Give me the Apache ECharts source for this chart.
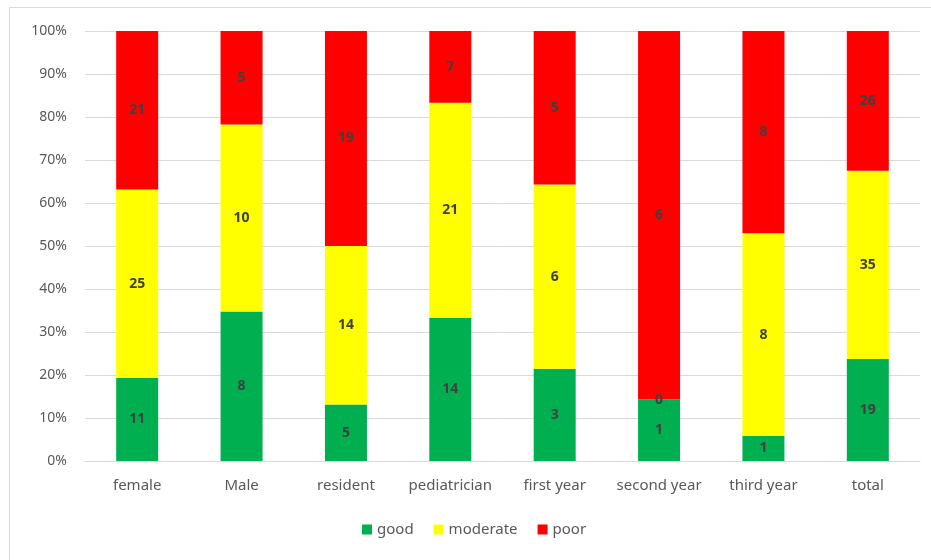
<!DOCTYPE html>
<html>
<head>
<meta charset="utf-8">
<script src="https://cdn.jsdelivr.net/npm/echarts@6/dist/echarts.min.js"></script>
<style>
  html, body { margin: 0; padding: 0; background: #fff; }
  #chart { width: 931px; height: 560px; }
</style>
</head>
<body>
<div id="chart"></div>
<script>
const categories = ['female', 'Male', 'resident', 'pediatrician', 'first year', 'second year', 'third year', 'total'];
const good = [11, 8, 5, 14, 3, 1, 1, 19];
const moderate = [25, 10, 14, 21, 6, 0, 8, 35];
const poor = [21, 5, 19, 7, 5, 6, 8, 26];

const totals = categories.map((_, i) => good[i] + moderate[i] + poor[i]);
// 100% stacked: bar height is share, label is the count
const toShare = (arr) => arr.map((v, i) => ({ value: v / totals[i] * 100, count: v }));

const font = 'Noto Sans';

const labelStyle = {
  show: true,
  position: 'inside',
  formatter: (p) => p.data.count,
  color: '#404040',
  fontFamily: font,
  fontSize: 14,
  fontWeight: 'bold',
};

const chart = echarts.init(document.getElementById('chart'));
chart.setOption({
  animation: false,
  graphic: [
    {
      type: 'rect',
      shape: { x: 9.5, y: 7.5, width: 940, height: 600 },
      style: { fill: 'none', stroke: '#d9d9d9', lineWidth: 1 },
      silent: true,
    },
  ],
  grid: {
    left: 85,
    right: 11,
    top: 31,
    bottom: 99,
  },
  legend: {
    bottom: 18,
    left: 357,
    itemWidth: 10,
    itemHeight: 10,
    itemGap: 20,
    icon: 'rect',
    textStyle: { color: '#595959', fontFamily: font, fontSize: 15 },
    data: ['good', 'moderate', 'poor'],
  },
  xAxis: {
    type: 'category',
    data: categories,
    axisLine: { lineStyle: { color: '#d9d9d9' } },
    axisTick: { show: false },
    axisLabel: { interval: 0, color: '#595959', fontFamily: font, fontSize: 15, margin: 17 },
  },
  yAxis: {
    type: 'value',
    min: 0,
    max: 100,
    interval: 10,
    axisLine: { show: false },
    axisTick: { show: false },
    splitLine: { lineStyle: { color: '#d9d9d9' } },
    axisLabel: { formatter: '{value}%', color: '#595959', fontFamily: font, fontSize: 14, margin: 18 },
  },
  series: [
    {
      name: 'good',
      type: 'bar',
      stack: 'all',
      barWidth: 42,
      itemStyle: { color: '#00B050' },
      label: labelStyle,
      data: toShare(good),
    },
    {
      name: 'moderate',
      type: 'bar',
      stack: 'all',
      barWidth: 42,
      itemStyle: { color: '#FFFF00' },
      label: labelStyle,
      data: toShare(moderate),
    },
    {
      name: 'poor',
      type: 'bar',
      stack: 'all',
      barWidth: 42,
      itemStyle: { color: '#FF0000' },
      label: labelStyle,
      data: toShare(poor),
    },
  ],
});
</script>
</body>
</html>
